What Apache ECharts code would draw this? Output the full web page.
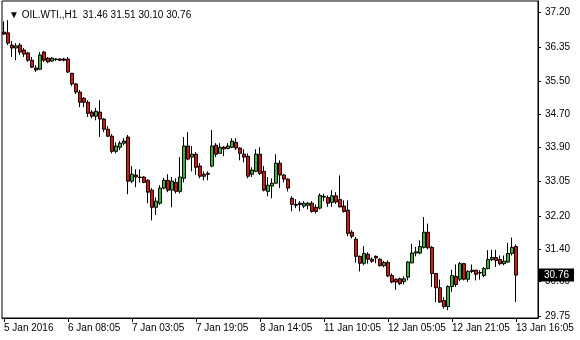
<!DOCTYPE html>
<html>
<head>
<meta charset="utf-8">
<script src="https://cdn.jsdelivr.net/npm/echarts@6/dist/echarts.min.js"></script>
<style>html,body{margin:0;padding:0;background:#fff}#c{width:580px;height:340px}</style>
</head>
<body>
<div id="c"></div>
<script>
const symbolName = 'OIL.WTI.,H1';
const tickLabels = ['5 Jan 2016','6 Jan 08:05','7 Jan 03:05','7 Jan 19:05','8 Jan 14:05','11 Jan 10:05','12 Jan 05:05','12 Jan 21:05','13 Jan 16:05'];
const yTicks = [29.75, 30.60, 31.40, 32.20, 33.05, 33.90, 34.70, 35.50, 36.35, 37.20];

const open = [
36.71,36.69,36.39,36.32,36.39,36.27,36.20,36.02,35.83,35.80,
36.22,36.07,36.00,36.05,36.05,36.05,36.05,35.70,35.44,35.24,
35.09,34.99,34.75,34.65,34.75,34.58,34.33,34.16,33.79,33.89,
33.99,34.14,33.06,33.21,33.16,33.16,33.08,32.84,32.42,32.52,
32.89,33.08,32.84,33.03,32.81,33.13,33.92,33.65,33.72,33.43,
33.23,33.25,33.43,33.94,33.74,33.89,33.86,33.89,34.01,33.87,
33.72,33.67,33.23,33.30,33.72,33.30,32.81,32.94,33.01,33.50,
33.21,33.11,32.64,32.49,32.52,32.45,32.47,32.52,32.42,32.40,
32.69,32.66,32.54,32.70,32.61,32.45,32.35,31.81,31.64,31.22,
31.05,31.27,31.15,31.22,31.15,30.99,31.07,30.75,30.66,30.67,
30.60,30.71,31.06,31.30,31.30,31.44,31.81,31.44,30.80,30.45,
30.14,29.99,30.48,30.73,30.66,31.04,30.66,30.88,30.88,30.81,
30.75,30.92,31.14,31.19,31.14,31.04,31.08,31.29,31.46];
const close = [
36.66,36.44,36.32,36.37,36.22,36.17,36.02,35.85,35.78,36.15,
36.02,35.98,36.07,36.04,36.02,36.02,35.73,35.44,35.24,34.99,
34.99,34.72,34.65,34.77,34.58,34.33,34.16,33.79,33.92,33.99,
34.04,33.06,33.23,33.16,33.15,33.03,32.79,32.42,32.57,32.89,
33.08,32.84,33.06,32.81,33.16,33.92,33.60,33.72,33.40,33.18,
33.18,33.23,33.92,33.72,33.89,33.85,33.92,34.04,33.87,33.74,
33.65,33.18,33.33,33.72,33.25,32.84,32.96,33.01,33.50,33.21,
33.11,32.89,32.49,32.47,32.49,32.52,32.52,32.32,32.32,32.71,
32.67,32.52,32.70,32.55,32.43,32.32,31.78,31.71,31.22,31.05,
31.29,31.15,31.10,31.18,30.99,31.07,30.74,30.59,30.59,30.55,
30.67,31.08,31.30,31.33,31.46,31.81,31.43,30.80,30.45,30.10,
29.99,30.48,30.75,30.53,31.04,30.66,30.85,30.85,30.78,30.82,
30.92,31.14,31.19,31.12,31.04,31.10,31.29,31.44,30.76];
const high = [
36.97,37.00,36.49,36.44,36.44,36.32,36.22,36.10,35.90,36.22,
36.24,36.10,36.10,36.07,36.07,36.08,36.10,35.71,35.46,35.29,
35.12,35.04,34.80,34.85,35.04,34.60,34.41,34.21,34.01,34.04,
34.11,34.19,33.43,33.35,33.35,33.18,33.11,32.89,32.66,32.96,
33.14,33.23,33.16,33.13,33.65,34.14,34.26,33.92,33.77,33.50,
33.30,33.30,34.31,33.99,33.99,33.92,33.99,34.11,34.11,33.89,
33.84,33.74,33.40,33.84,33.89,33.43,33.16,33.13,33.72,33.57,
33.23,33.13,32.69,32.62,32.57,32.57,32.55,32.57,32.49,32.76,
32.75,32.71,32.84,32.79,33.20,32.59,32.59,31.86,31.69,31.24,
31.47,31.32,31.19,31.24,31.17,31.11,31.12,30.80,30.68,30.70,
30.73,31.10,31.53,31.45,31.61,32.18,32.02,31.47,30.81,30.65,
30.22,30.51,30.89,31.02,31.08,31.06,30.88,31.02,30.89,30.88,
30.96,31.37,31.38,31.38,31.24,31.24,31.55,31.68,31.51];
const low = [
36.64,36.39,36.10,36.02,36.15,36.10,35.98,35.83,35.73,35.78,
35.98,35.95,35.98,36.00,36.00,35.99,35.71,35.39,35.19,34.87,
34.87,34.63,34.60,34.55,34.14,34.26,34.14,33.74,33.74,33.82,
33.94,32.74,33.01,32.91,33.03,33.01,32.52,32.10,32.23,32.48,
32.86,32.79,32.42,32.76,32.76,33.03,33.57,33.30,33.21,33.13,
33.08,33.08,33.40,33.65,33.74,33.67,33.84,33.87,33.82,33.57,
33.52,33.13,33.16,33.28,33.21,32.81,32.69,32.64,33.01,32.89,
33.03,32.81,32.32,32.40,32.32,32.40,32.37,32.29,32.27,32.37,
32.57,32.43,32.43,32.50,32.42,32.29,31.71,31.66,31.07,30.85,
31.00,31.04,31.06,31.05,30.97,30.95,30.71,30.56,30.40,30.52,
30.53,30.63,31.05,31.22,31.27,31.41,31.39,30.47,30.10,30.08,
29.94,29.90,30.35,30.47,30.61,30.63,30.59,30.81,30.63,30.65,
30.71,30.90,31.10,30.96,31.00,31.00,31.06,31.24,30.10];

const barsPerLabel = 16;
const emptyBarsRight = 5;
const n = open.length;
const categories = [];
for (let i = 0; i < n + emptyBarsRight; i++) categories.push(String(i));
const candles = open.map((o, i) => [o, close[i], low[i], high[i]]);
const last = n - 1;
const f2 = v => v.toFixed(2);
const header = '\u25BC ' + symbolName + '  ' + [open[last], high[last], low[last], close[last]].map(f2).join(' ');

const FONT = '"Liberation Sans", Arial, sans-serif';
const chart = echarts.init(document.getElementById('c'), null, {renderer: 'canvas'});
chart.setOption({
  animation: false,
  backgroundColor: '#fff',
  title: {
    text: header, left: 4, top: 5,
    textStyle: {fontSize: 10, fontWeight: 'normal', color: '#000', fontFamily: FONT}
  },
  grid: {left: 2, top: 1, right: 42, bottom: 22, show: true, borderColor: '#000', borderWidth: 1, backgroundColor: 'transparent'},
  xAxis: {
    type: 'category', data: categories, boundaryGap: true,
    axisLine: {show: true, lineStyle: {color: '#000', width: 1}},
    axisTick: {show: true, alignWithLabel: true, interval: barsPerLabel - 1, length: 4, lineStyle: {color: '#000'}},
    axisLabel: {
      interval: barsPerLabel - 1, align: 'left', margin: 5, color: '#000', fontSize: 10, fontFamily: FONT,
      formatter: (v, idx) => (idx % barsPerLabel === 0 && tickLabels[idx / barsPerLabel]) ? tickLabels[idx / barsPerLabel] : ''
    },
    splitLine: {show: false}
  },
  yAxis: {
    type: 'value', position: 'right', scale: true, min: 29.71, max: 37.47,
    axisLine: {show: true, lineStyle: {color: '#000', width: 1}},
    axisTick: {show: true, length: 3, customValues: yTicks, lineStyle: {color: '#000'}},
    axisLabel: {show: true, customValues: yTicks, margin: 7, color: '#000', fontSize: 10, fontFamily: FONT, formatter: v => f2(v)},
    splitLine: {show: false}
  },
  series: [{
    type: 'candlestick',
    data: candles,
    barWidth: 3,
    itemStyle: {color: '#33b833', color0: '#e01010', borderColor: '#000', borderColor0: '#000', borderWidth: 1},
    markLine: {
      silent: true, symbol: 'none', animation: false,
      lineStyle: {color: 'rgba(0,0,0,0)', width: 0},
      label: {
        show: true, position: 'end', distance: 1, formatter: f2(close[last]),
        backgroundColor: '#000', color: '#fff', padding: [2, 5, 1, 5], fontSize: 10, fontFamily: FONT
      },
      data: [{yAxis: close[last]}]
    }
  }]
});
</script>
</body>
</html>
